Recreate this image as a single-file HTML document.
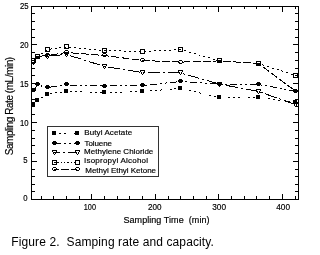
<!DOCTYPE html>
<html><head><meta charset="utf-8"><style>
html,body{margin:0;padding:0;background:#fff;width:300px;height:255px;overflow:hidden}
svg{display:block;will-change:transform}
text{font-family:"Liberation Sans",sans-serif;fill:#000;stroke:#000;stroke-width:0.18px}
rect,polyline,line{shape-rendering:crispEdges}
</style></head><body>
<svg width="300" height="255" viewBox="0 0 300 255">
<polyline points="33.5,104.5 37.5,100.0 47.5,94.0 66.5,91.5 104.5,92.5 142.5,91.5 180.5,88.5 219.5,97.5 258.5,97.1 295.5,102.5" fill="none" stroke="#000" stroke-width="1" stroke-dasharray="2 3 2 3 2 8"/>
<polyline points="33.5,62.5 37.5,56.5 47.5,55.5 66.5,52.5 104.5,55.5 142.5,60.5 180.5,62.1 219.5,60.9 258.5,63.5 295.5,91.1" fill="none" stroke="#000" stroke-width="1" stroke-dasharray="7.8 2.4"/>
<polyline points="33.5,62.5 37.5,56.5 47.5,56.0 66.5,54.5 104.5,66.5 142.5,72.5 180.5,72.9 219.5,84.1 258.5,91.5 295.5,104.5" fill="none" stroke="#000" stroke-width="1" stroke-dasharray="12 3 2 3"/>
<polyline points="33.5,90.5 37.5,85.0 47.5,87.5 66.5,84.9 104.5,86.1 142.5,85.5 180.5,81.5 219.5,84.1 258.5,84.5 295.5,91.1" fill="none" stroke="#000" stroke-width="1" stroke-dasharray="7 3 2 3 2 3"/>
<polyline points="33.5,60.5 37.5,56.5 47.5,49.5 66.5,47.0 104.5,50.5 142.5,51.5 180.5,49.5 219.5,60.9 258.5,63.5 295.5,75.5" fill="none" stroke="#000" stroke-width="1" stroke-dasharray="2 3"/>
<rect x="31" y="102" width="4" height="1"/><rect x="31" y="103" width="4" height="1"/><rect x="31" y="104" width="4" height="1"/><rect x="31" y="105" width="4" height="1"/>
<rect x="35" y="98" width="4" height="1"/><rect x="35" y="99" width="4" height="1"/><rect x="35" y="100" width="4" height="1"/><rect x="35" y="101" width="4" height="1"/>
<rect x="45" y="92" width="4" height="1"/><rect x="45" y="93" width="4" height="1"/><rect x="45" y="94" width="4" height="1"/><rect x="45" y="95" width="4" height="1"/>
<rect x="64" y="89" width="4" height="1"/><rect x="64" y="90" width="4" height="1"/><rect x="64" y="91" width="4" height="1"/><rect x="64" y="92" width="4" height="1"/>
<rect x="102" y="90" width="4" height="1"/><rect x="102" y="91" width="4" height="1"/><rect x="102" y="92" width="4" height="1"/><rect x="102" y="93" width="4" height="1"/>
<rect x="140" y="89" width="4" height="1"/><rect x="140" y="90" width="4" height="1"/><rect x="140" y="91" width="4" height="1"/><rect x="140" y="92" width="4" height="1"/>
<rect x="178" y="86" width="4" height="1"/><rect x="178" y="87" width="4" height="1"/><rect x="178" y="88" width="4" height="1"/><rect x="178" y="89" width="4" height="1"/>
<rect x="217" y="95" width="4" height="1"/><rect x="217" y="96" width="4" height="1"/><rect x="217" y="97" width="4" height="1"/><rect x="217" y="98" width="4" height="1"/>
<rect x="256" y="95" width="4" height="1"/><rect x="256" y="96" width="4" height="1"/><rect x="256" y="97" width="4" height="1"/><rect x="256" y="98" width="4" height="1"/>
<rect x="293" y="100" width="4" height="1"/><rect x="293" y="101" width="4" height="1"/><rect x="293" y="102" width="4" height="1"/><rect x="293" y="103" width="4" height="1"/>
<rect x="32" y="60" width="3" height="1"/><rect x="31" y="61" width="1" height="1"/><rect x="35" y="61" width="1" height="1"/><rect x="31" y="62" width="1" height="1"/><rect x="35" y="62" width="1" height="1"/><rect x="32" y="63" width="3" height="1"/>
<rect x="36" y="54" width="3" height="1"/><rect x="35" y="55" width="1" height="1"/><rect x="39" y="55" width="1" height="1"/><rect x="35" y="56" width="1" height="1"/><rect x="39" y="56" width="1" height="1"/><rect x="36" y="57" width="3" height="1"/>
<rect x="46" y="53" width="3" height="1"/><rect x="45" y="54" width="1" height="1"/><rect x="49" y="54" width="1" height="1"/><rect x="45" y="55" width="1" height="1"/><rect x="49" y="55" width="1" height="1"/><rect x="46" y="56" width="3" height="1"/>
<rect x="65" y="50" width="3" height="1"/><rect x="64" y="51" width="1" height="1"/><rect x="68" y="51" width="1" height="1"/><rect x="64" y="52" width="1" height="1"/><rect x="68" y="52" width="1" height="1"/><rect x="65" y="53" width="3" height="1"/>
<rect x="103" y="53" width="3" height="1"/><rect x="102" y="54" width="1" height="1"/><rect x="106" y="54" width="1" height="1"/><rect x="102" y="55" width="1" height="1"/><rect x="106" y="55" width="1" height="1"/><rect x="103" y="56" width="3" height="1"/>
<rect x="141" y="58" width="3" height="1"/><rect x="140" y="59" width="1" height="1"/><rect x="144" y="59" width="1" height="1"/><rect x="140" y="60" width="1" height="1"/><rect x="144" y="60" width="1" height="1"/><rect x="141" y="61" width="3" height="1"/>
<rect x="179" y="60" width="3" height="1"/><rect x="178" y="61" width="1" height="1"/><rect x="182" y="61" width="1" height="1"/><rect x="178" y="62" width="1" height="1"/><rect x="182" y="62" width="1" height="1"/><rect x="179" y="63" width="3" height="1"/>
<rect x="218" y="58" width="3" height="1"/><rect x="217" y="59" width="1" height="1"/><rect x="221" y="59" width="1" height="1"/><rect x="217" y="60" width="1" height="1"/><rect x="221" y="60" width="1" height="1"/><rect x="218" y="61" width="3" height="1"/>
<rect x="257" y="61" width="3" height="1"/><rect x="256" y="62" width="1" height="1"/><rect x="260" y="62" width="1" height="1"/><rect x="256" y="63" width="1" height="1"/><rect x="260" y="63" width="1" height="1"/><rect x="257" y="64" width="3" height="1"/>
<rect x="294" y="89" width="3" height="1"/><rect x="293" y="90" width="1" height="1"/><rect x="297" y="90" width="1" height="1"/><rect x="293" y="91" width="1" height="1"/><rect x="297" y="91" width="1" height="1"/><rect x="294" y="92" width="3" height="1"/>
<rect x="31" y="60" width="5" height="1"/><rect x="31" y="61" width="1" height="1"/><rect x="35" y="61" width="1" height="1"/><rect x="32" y="62" width="1" height="1"/><rect x="34" y="62" width="1" height="1"/><rect x="32" y="63" width="1" height="1"/><rect x="34" y="63" width="1" height="1"/><rect x="33" y="64" width="1" height="1"/>
<rect x="35" y="54" width="5" height="1"/><rect x="35" y="55" width="1" height="1"/><rect x="39" y="55" width="1" height="1"/><rect x="36" y="56" width="1" height="1"/><rect x="38" y="56" width="1" height="1"/><rect x="36" y="57" width="1" height="1"/><rect x="38" y="57" width="1" height="1"/><rect x="37" y="58" width="1" height="1"/>
<rect x="45" y="54" width="5" height="1"/><rect x="45" y="55" width="1" height="1"/><rect x="49" y="55" width="1" height="1"/><rect x="46" y="56" width="1" height="1"/><rect x="48" y="56" width="1" height="1"/><rect x="46" y="57" width="1" height="1"/><rect x="48" y="57" width="1" height="1"/><rect x="47" y="58" width="1" height="1"/>
<rect x="64" y="52" width="5" height="1"/><rect x="64" y="53" width="1" height="1"/><rect x="68" y="53" width="1" height="1"/><rect x="65" y="54" width="1" height="1"/><rect x="67" y="54" width="1" height="1"/><rect x="65" y="55" width="1" height="1"/><rect x="67" y="55" width="1" height="1"/><rect x="66" y="56" width="1" height="1"/>
<rect x="102" y="64" width="5" height="1"/><rect x="102" y="65" width="1" height="1"/><rect x="106" y="65" width="1" height="1"/><rect x="103" y="66" width="1" height="1"/><rect x="105" y="66" width="1" height="1"/><rect x="103" y="67" width="1" height="1"/><rect x="105" y="67" width="1" height="1"/><rect x="104" y="68" width="1" height="1"/>
<rect x="140" y="70" width="5" height="1"/><rect x="140" y="71" width="1" height="1"/><rect x="144" y="71" width="1" height="1"/><rect x="141" y="72" width="1" height="1"/><rect x="143" y="72" width="1" height="1"/><rect x="141" y="73" width="1" height="1"/><rect x="143" y="73" width="1" height="1"/><rect x="142" y="74" width="1" height="1"/>
<rect x="178" y="70" width="5" height="1"/><rect x="178" y="71" width="1" height="1"/><rect x="182" y="71" width="1" height="1"/><rect x="179" y="72" width="1" height="1"/><rect x="181" y="72" width="1" height="1"/><rect x="179" y="73" width="1" height="1"/><rect x="181" y="73" width="1" height="1"/><rect x="180" y="74" width="1" height="1"/>
<rect x="217" y="82" width="5" height="1"/><rect x="217" y="83" width="1" height="1"/><rect x="221" y="83" width="1" height="1"/><rect x="218" y="84" width="1" height="1"/><rect x="220" y="84" width="1" height="1"/><rect x="218" y="85" width="1" height="1"/><rect x="220" y="85" width="1" height="1"/><rect x="219" y="86" width="1" height="1"/>
<rect x="256" y="89" width="5" height="1"/><rect x="256" y="90" width="1" height="1"/><rect x="260" y="90" width="1" height="1"/><rect x="257" y="91" width="1" height="1"/><rect x="259" y="91" width="1" height="1"/><rect x="257" y="92" width="1" height="1"/><rect x="259" y="92" width="1" height="1"/><rect x="258" y="93" width="1" height="1"/>
<rect x="293" y="102" width="5" height="1"/><rect x="293" y="103" width="1" height="1"/><rect x="297" y="103" width="1" height="1"/><rect x="294" y="104" width="1" height="1"/><rect x="296" y="104" width="1" height="1"/><rect x="294" y="105" width="1" height="1"/><rect x="296" y="105" width="1" height="1"/><rect x="295" y="106" width="1" height="1"/>
<rect x="32" y="88" width="3" height="1"/><rect x="31" y="89" width="5" height="1"/><rect x="31" y="90" width="5" height="1"/><rect x="32" y="91" width="3" height="1"/>
<rect x="36" y="82" width="3" height="1"/><rect x="35" y="83" width="5" height="1"/><rect x="35" y="84" width="5" height="1"/><rect x="36" y="85" width="3" height="1"/>
<rect x="46" y="85" width="3" height="1"/><rect x="45" y="86" width="5" height="1"/><rect x="45" y="87" width="5" height="1"/><rect x="46" y="88" width="3" height="1"/>
<rect x="65" y="82" width="3" height="1"/><rect x="64" y="83" width="5" height="1"/><rect x="64" y="84" width="5" height="1"/><rect x="65" y="85" width="3" height="1"/>
<rect x="103" y="84" width="3" height="1"/><rect x="102" y="85" width="5" height="1"/><rect x="102" y="86" width="5" height="1"/><rect x="103" y="87" width="3" height="1"/>
<rect x="141" y="83" width="3" height="1"/><rect x="140" y="84" width="5" height="1"/><rect x="140" y="85" width="5" height="1"/><rect x="141" y="86" width="3" height="1"/>
<rect x="179" y="79" width="3" height="1"/><rect x="178" y="80" width="5" height="1"/><rect x="178" y="81" width="5" height="1"/><rect x="179" y="82" width="3" height="1"/>
<rect x="218" y="82" width="3" height="1"/><rect x="217" y="83" width="5" height="1"/><rect x="217" y="84" width="5" height="1"/><rect x="218" y="85" width="3" height="1"/>
<rect x="257" y="82" width="3" height="1"/><rect x="256" y="83" width="5" height="1"/><rect x="256" y="84" width="5" height="1"/><rect x="257" y="85" width="3" height="1"/>
<rect x="294" y="89" width="3" height="1"/><rect x="293" y="90" width="5" height="1"/><rect x="293" y="91" width="5" height="1"/><rect x="294" y="92" width="3" height="1"/>
<rect x="31" y="58" width="5" height="1"/><rect x="31" y="59" width="1" height="1"/><rect x="35" y="59" width="1" height="1"/><rect x="31" y="60" width="1" height="1"/><rect x="35" y="60" width="1" height="1"/><rect x="31" y="61" width="1" height="1"/><rect x="35" y="61" width="1" height="1"/><rect x="31" y="62" width="5" height="1"/>
<rect x="35" y="54" width="5" height="1"/><rect x="35" y="55" width="1" height="1"/><rect x="39" y="55" width="1" height="1"/><rect x="35" y="56" width="1" height="1"/><rect x="39" y="56" width="1" height="1"/><rect x="35" y="57" width="1" height="1"/><rect x="39" y="57" width="1" height="1"/><rect x="35" y="58" width="5" height="1"/>
<rect x="45" y="47" width="5" height="1"/><rect x="45" y="48" width="1" height="1"/><rect x="49" y="48" width="1" height="1"/><rect x="45" y="49" width="1" height="1"/><rect x="49" y="49" width="1" height="1"/><rect x="45" y="50" width="1" height="1"/><rect x="49" y="50" width="1" height="1"/><rect x="45" y="51" width="5" height="1"/>
<rect x="64" y="44" width="5" height="1"/><rect x="64" y="45" width="1" height="1"/><rect x="68" y="45" width="1" height="1"/><rect x="64" y="46" width="1" height="1"/><rect x="68" y="46" width="1" height="1"/><rect x="64" y="47" width="1" height="1"/><rect x="68" y="47" width="1" height="1"/><rect x="64" y="48" width="5" height="1"/>
<rect x="102" y="48" width="5" height="1"/><rect x="102" y="49" width="1" height="1"/><rect x="106" y="49" width="1" height="1"/><rect x="102" y="50" width="1" height="1"/><rect x="106" y="50" width="1" height="1"/><rect x="102" y="51" width="1" height="1"/><rect x="106" y="51" width="1" height="1"/><rect x="102" y="52" width="5" height="1"/>
<rect x="140" y="49" width="5" height="1"/><rect x="140" y="50" width="1" height="1"/><rect x="144" y="50" width="1" height="1"/><rect x="140" y="51" width="1" height="1"/><rect x="144" y="51" width="1" height="1"/><rect x="140" y="52" width="1" height="1"/><rect x="144" y="52" width="1" height="1"/><rect x="140" y="53" width="5" height="1"/>
<rect x="178" y="47" width="5" height="1"/><rect x="178" y="48" width="1" height="1"/><rect x="182" y="48" width="1" height="1"/><rect x="178" y="49" width="1" height="1"/><rect x="182" y="49" width="1" height="1"/><rect x="178" y="50" width="1" height="1"/><rect x="182" y="50" width="1" height="1"/><rect x="178" y="51" width="5" height="1"/>
<rect x="217" y="58" width="5" height="1"/><rect x="217" y="59" width="1" height="1"/><rect x="221" y="59" width="1" height="1"/><rect x="217" y="60" width="1" height="1"/><rect x="221" y="60" width="1" height="1"/><rect x="217" y="61" width="1" height="1"/><rect x="221" y="61" width="1" height="1"/><rect x="217" y="62" width="5" height="1"/>
<rect x="256" y="61" width="5" height="1"/><rect x="256" y="62" width="1" height="1"/><rect x="260" y="62" width="1" height="1"/><rect x="256" y="63" width="1" height="1"/><rect x="260" y="63" width="1" height="1"/><rect x="256" y="64" width="1" height="1"/><rect x="260" y="64" width="1" height="1"/><rect x="256" y="65" width="5" height="1"/>
<rect x="293" y="73" width="5" height="1"/><rect x="293" y="74" width="1" height="1"/><rect x="297" y="74" width="1" height="1"/><rect x="293" y="75" width="1" height="1"/><rect x="297" y="75" width="1" height="1"/><rect x="293" y="76" width="1" height="1"/><rect x="297" y="76" width="1" height="1"/><rect x="293" y="77" width="5" height="1"/>
<rect x="31" y="6" width="1" height="194"/>
<rect x="298" y="6" width="1" height="194"/>
<rect x="31" y="6" width="268" height="1"/>
<rect x="31" y="199" width="268" height="1"/>
<rect x="32" y="191" width="3" height="1"/>
<rect x="295" y="191" width="3" height="1"/>
<rect x="32" y="184" width="3" height="1"/>
<rect x="295" y="184" width="3" height="1"/>
<rect x="32" y="176" width="3" height="1"/>
<rect x="295" y="176" width="3" height="1"/>
<rect x="32" y="169" width="3" height="1"/>
<rect x="295" y="169" width="3" height="1"/>
<rect x="32" y="161" width="5" height="1"/>
<rect x="293" y="161" width="5" height="1"/>
<rect x="32" y="153" width="3" height="1"/>
<rect x="295" y="153" width="3" height="1"/>
<rect x="32" y="145" width="3" height="1"/>
<rect x="295" y="145" width="3" height="1"/>
<rect x="32" y="138" width="3" height="1"/>
<rect x="295" y="138" width="3" height="1"/>
<rect x="32" y="130" width="3" height="1"/>
<rect x="295" y="130" width="3" height="1"/>
<rect x="32" y="122" width="5" height="1"/>
<rect x="293" y="122" width="5" height="1"/>
<rect x="32" y="114" width="3" height="1"/>
<rect x="295" y="114" width="3" height="1"/>
<rect x="32" y="106" width="3" height="1"/>
<rect x="295" y="106" width="3" height="1"/>
<rect x="32" y="99" width="3" height="1"/>
<rect x="295" y="99" width="3" height="1"/>
<rect x="32" y="91" width="3" height="1"/>
<rect x="295" y="91" width="3" height="1"/>
<rect x="32" y="83" width="5" height="1"/>
<rect x="293" y="83" width="5" height="1"/>
<rect x="32" y="75" width="3" height="1"/>
<rect x="295" y="75" width="3" height="1"/>
<rect x="32" y="68" width="3" height="1"/>
<rect x="295" y="68" width="3" height="1"/>
<rect x="32" y="60" width="3" height="1"/>
<rect x="295" y="60" width="3" height="1"/>
<rect x="32" y="52" width="3" height="1"/>
<rect x="295" y="52" width="3" height="1"/>
<rect x="32" y="44" width="5" height="1"/>
<rect x="293" y="44" width="5" height="1"/>
<rect x="32" y="37" width="3" height="1"/>
<rect x="295" y="37" width="3" height="1"/>
<rect x="32" y="29" width="3" height="1"/>
<rect x="295" y="29" width="3" height="1"/>
<rect x="32" y="21" width="3" height="1"/>
<rect x="295" y="21" width="3" height="1"/>
<rect x="32" y="13" width="3" height="1"/>
<rect x="295" y="13" width="3" height="1"/>
<rect x="41" y="196" width="1" height="3"/>
<rect x="41" y="7" width="1" height="2"/>
<rect x="53" y="196" width="1" height="3"/>
<rect x="53" y="7" width="1" height="2"/>
<rect x="66" y="196" width="1" height="3"/>
<rect x="66" y="7" width="1" height="2"/>
<rect x="79" y="196" width="1" height="3"/>
<rect x="79" y="7" width="1" height="2"/>
<rect x="91" y="194" width="1" height="5"/>
<rect x="91" y="7" width="1" height="5"/>
<rect x="104" y="196" width="1" height="3"/>
<rect x="104" y="7" width="1" height="2"/>
<rect x="117" y="196" width="1" height="3"/>
<rect x="117" y="7" width="1" height="2"/>
<rect x="129" y="196" width="1" height="3"/>
<rect x="129" y="7" width="1" height="2"/>
<rect x="142" y="196" width="1" height="3"/>
<rect x="142" y="7" width="1" height="2"/>
<rect x="155" y="194" width="1" height="5"/>
<rect x="155" y="7" width="1" height="5"/>
<rect x="168" y="196" width="1" height="3"/>
<rect x="168" y="7" width="1" height="2"/>
<rect x="180" y="196" width="1" height="3"/>
<rect x="180" y="7" width="1" height="2"/>
<rect x="193" y="196" width="1" height="3"/>
<rect x="193" y="7" width="1" height="2"/>
<rect x="206" y="196" width="1" height="3"/>
<rect x="206" y="7" width="1" height="2"/>
<rect x="218" y="194" width="1" height="5"/>
<rect x="218" y="7" width="1" height="5"/>
<rect x="231" y="196" width="1" height="3"/>
<rect x="231" y="7" width="1" height="2"/>
<rect x="244" y="196" width="1" height="3"/>
<rect x="244" y="7" width="1" height="2"/>
<rect x="256" y="196" width="1" height="3"/>
<rect x="256" y="7" width="1" height="2"/>
<rect x="269" y="196" width="1" height="3"/>
<rect x="269" y="7" width="1" height="2"/>
<rect x="282" y="194" width="1" height="5"/>
<rect x="282" y="7" width="1" height="5"/>
<rect x="295" y="196" width="1" height="3"/>
<rect x="295" y="7" width="1" height="2"/>
<rect x="47" y="126" width="111" height="1" fill="#333"/>
<rect x="47" y="176" width="112" height="1" fill="#333"/>
<rect x="47" y="126" width="1" height="50" fill="#333"/>
<rect x="158" y="126" width="1" height="50" fill="#333"/>
<line x1="54" y1="133.5" x2="77" y2="133.5" stroke="#000" stroke-width="1" stroke-dasharray="1.8 3.5 1.8 3.5 1.8 7.6" stroke-dashoffset="0.5"/>
<rect x="52" y="131" width="4" height="1"/><rect x="52" y="132" width="4" height="1"/><rect x="52" y="133" width="4" height="1"/><rect x="52" y="134" width="4" height="1"/>
<rect x="75" y="131" width="4" height="1"/><rect x="75" y="132" width="4" height="1"/><rect x="75" y="133" width="4" height="1"/><rect x="75" y="134" width="4" height="1"/>
<text x="84.2" y="135.3" font-size="8" textLength="48" lengthAdjust="spacing">Butyl Acetate</text>
<line x1="54" y1="143.5" x2="77" y2="143.5" stroke="#000" stroke-width="1" stroke-dasharray="6.5 3.5 2 3 2 3" stroke-dashoffset="0"/>
<rect x="53" y="141" width="3" height="1"/><rect x="52" y="142" width="5" height="1"/><rect x="52" y="143" width="5" height="1"/><rect x="53" y="144" width="3" height="1"/>
<rect x="76" y="141" width="3" height="1"/><rect x="75" y="142" width="5" height="1"/><rect x="75" y="143" width="5" height="1"/><rect x="76" y="144" width="3" height="1"/>
<text x="84.5" y="146" font-size="8" textLength="27.5" lengthAdjust="spacing">Toluene</text>
<line x1="54" y1="152.5" x2="77" y2="152.5" stroke="#000" stroke-width="1" stroke-dasharray="12 3 2 3" stroke-dashoffset="6"/>
<rect x="52" y="150" width="5" height="1"/><rect x="52" y="151" width="1" height="1"/><rect x="56" y="151" width="1" height="1"/><rect x="53" y="152" width="1" height="1"/><rect x="55" y="152" width="1" height="1"/><rect x="53" y="153" width="1" height="1"/><rect x="55" y="153" width="1" height="1"/><rect x="54" y="154" width="1" height="1"/>
<rect x="75" y="150" width="5" height="1"/><rect x="75" y="151" width="1" height="1"/><rect x="79" y="151" width="1" height="1"/><rect x="76" y="152" width="1" height="1"/><rect x="78" y="152" width="1" height="1"/><rect x="76" y="153" width="1" height="1"/><rect x="78" y="153" width="1" height="1"/><rect x="77" y="154" width="1" height="1"/>
<text x="84" y="154" font-size="8" textLength="69.3" lengthAdjust="spacing">Methylene Chloride</text>
<line x1="54" y1="162.5" x2="77" y2="162.5" stroke="#000" stroke-width="1" stroke-dasharray="1.5 1.8" stroke-dashoffset="0"/>
<rect x="52" y="160" width="5" height="1"/><rect x="52" y="161" width="1" height="1"/><rect x="56" y="161" width="1" height="1"/><rect x="52" y="162" width="1" height="1"/><rect x="56" y="162" width="1" height="1"/><rect x="52" y="163" width="1" height="1"/><rect x="56" y="163" width="1" height="1"/><rect x="52" y="164" width="5" height="1"/>
<rect x="75" y="160" width="5" height="1"/><rect x="75" y="161" width="1" height="1"/><rect x="79" y="161" width="1" height="1"/><rect x="75" y="162" width="1" height="1"/><rect x="79" y="162" width="1" height="1"/><rect x="75" y="163" width="1" height="1"/><rect x="79" y="163" width="1" height="1"/><rect x="75" y="164" width="5" height="1"/>
<text x="84" y="162.8" font-size="8" textLength="64" lengthAdjust="spacing">Isopropyl Alcohol</text>
<line x1="54" y1="169.5" x2="77" y2="169.5" stroke="#000" stroke-width="1" stroke-dasharray="8.6 2" stroke-dashoffset="4"/>
<rect x="53" y="167" width="3" height="1"/><rect x="52" y="168" width="1" height="1"/><rect x="56" y="168" width="1" height="1"/><rect x="52" y="169" width="1" height="1"/><rect x="56" y="169" width="1" height="1"/><rect x="53" y="170" width="3" height="1"/>
<rect x="76" y="167" width="3" height="1"/><rect x="75" y="168" width="1" height="1"/><rect x="79" y="168" width="1" height="1"/><rect x="75" y="169" width="1" height="1"/><rect x="79" y="169" width="1" height="1"/><rect x="76" y="170" width="3" height="1"/>
<text x="85.3" y="173" font-size="8" textLength="70.7" lengthAdjust="spacing">Methyl Ethyl Ketone</text>
<text x="23.3" y="201.2" font-size="9" textLength="4.3" lengthAdjust="spacingAndGlyphs">0</text>
<text x="23.3" y="163.2" font-size="9" textLength="4.3" lengthAdjust="spacingAndGlyphs">5</text>
<text x="19.9" y="126" font-size="9" textLength="8.6" lengthAdjust="spacingAndGlyphs">10</text>
<text x="19.9" y="87" font-size="9" textLength="8.6" lengthAdjust="spacingAndGlyphs">15</text>
<text x="19.9" y="47.5" font-size="9" textLength="8.6" lengthAdjust="spacingAndGlyphs">20</text>
<text x="19.9" y="9.2" font-size="9" textLength="8.6" lengthAdjust="spacingAndGlyphs">25</text>
<text x="83.8" y="210.4" font-size="9" textLength="12.2" lengthAdjust="spacingAndGlyphs">100</text>
<text x="148" y="210.4" font-size="9" textLength="13.5" lengthAdjust="spacingAndGlyphs">200</text>
<text x="212.2" y="210.4" font-size="9" textLength="13.8" lengthAdjust="spacingAndGlyphs">300</text>
<text x="276.2" y="210.4" font-size="9" textLength="13.8" lengthAdjust="spacingAndGlyphs">400</text>
<text x="123.5" y="222.5" font-size="9" textLength="86" lengthAdjust="spacing" xml:space="preserve">Sampling Time  (min)</text>
<text transform="translate(13,155.3) rotate(-90)" x="0" y="0" font-size="10" textLength="98.5" lengthAdjust="spacing">Sampling Rate (mL/min)</text>
<text x="11.3" y="245.7" font-size="12" style="stroke-width:0" textLength="202.5" lengthAdjust="spacing" xml:space="preserve">Figure 2.  Samping rate and capacity.</text>
</svg>
</body></html>
